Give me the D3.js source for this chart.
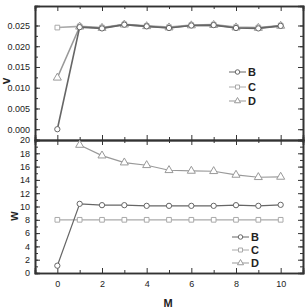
<!DOCTYPE html>
<html lang="en">
<head>
  <meta charset="utf-8">
  <title>v and w versus M</title>
  <style>
    body { margin: 0; background: #fff; }
    text { font-family: "Liberation Sans Narrow", "Liberation Sans", Arial, sans-serif; fill: #222; }
  </style>
</head>
<body>
  <script src="https://cdnjs.cloudflare.com/ajax/libs/d3/7.8.5/d3.min.js"></script>
  <script>
  // data
  const mValues = [0, 1, 2, 3, 4, 5, 6, 7, 8, 9, 10];
  const vB = [0.0000, 0.0246, 0.0243, 0.0252, 0.0248, 0.0244, 0.0250, 0.0251, 0.0244, 0.0243, 0.0249];
  const vC = [0.0245, 0.0248, 0.0245, 0.0253, 0.0249, 0.0246, 0.0251, 0.0252, 0.0246, 0.0245, 0.0250];
  const vD = [0.0124, 0.0247, 0.0244, 0.0252, 0.0248, 0.0245, 0.0250, 0.0251, 0.0245, 0.0244, 0.0249];
  const wB = [1.1, 10.4, 10.2, 10.2, 10.1, 10.1, 10.1, 10.1, 10.2, 10.1, 10.25];
  const wC = [8.0, 8.0, 8.0, 8.0, 8.0, 8.0, 8.0, 8.0, 8.0, 8.0, 8.0];
  const wD = [null, 19.25, 17.65, 16.6, 16.2, 15.45, 15.35, 15.3, 14.75, 14.4, 14.45];
  const seriesNames = ["B", "C", "D"];
  const vTicks = [0, 0.005, 0.010, 0.015, 0.020, 0.025];
  const wTicks = [0, 2, 4, 6, 8, 10, 12, 14, 16, 18, 20];
  const mTicks = [0, 2, 4, 6, 8, 10];

  const colors = { B: "#666", C: "#aaa", D: "#999" };
  const symbols = { B: d3.symbolCircle, C: d3.symbolSquare, D: d3.symbolTriangle };

  const W = 307, H = 308;
  const left = 35, right = 303;
  const topY = 6, midY = 140, botY = 273;

  const svg = d3.select("body").append("svg")
    .attr("width", W)
    .attr("height", H);

  const x = d3.scaleLinear().domain([-1, 11]).range([left, right]);
  const yV = d3.scaleLinear().domain([-0.0026, 0.0297]).range([midY, topY]);
  const yW = d3.scaleLinear().domain([0, 20]).range([botY, midY]);

  const axisColor = "#333";

  function styleAxis(g) {
    g.selectAll("path").attr("stroke", axisColor).attr("stroke-width", 1.4);
    g.selectAll("line").attr("stroke", axisColor).attr("stroke-width", 1);
    g.selectAll("text").style("font-size", "9px").attr("fill", "#222");
  }

  function minorTicks(lo, hi, step) {
    return d3.range(lo, hi + step / 2, step);
  }

  function panel(y, y0, y1, yTicks, yFmt, yMinorStep, showX) {
    const g = svg.append("g");
    // left
    g.append("g").attr("transform", `translate(${left},0)`)
      .call(d3.axisLeft(y).tickValues(minorTicks(y.domain()[0] < 0 ? 0 : y.domain()[0], yTicks[yTicks.length - 1], yMinorStep)).tickSize(-3).tickFormat(""))
      .call(styleAxis);
    g.append("g").attr("transform", `translate(${left},0)`)
      .call(d3.axisLeft(y).tickValues(yTicks).tickSize(-5).tickPadding(5).tickFormat(yFmt))
      .call(styleAxis);
    // right
    g.append("g").attr("transform", `translate(${right},0)`)
      .call(d3.axisRight(y).tickValues(minorTicks(y.domain()[0] < 0 ? 0 : y.domain()[0], yTicks[yTicks.length - 1], yMinorStep)).tickSize(-3).tickFormat(""))
      .call(styleAxis);
    g.append("g").attr("transform", `translate(${right},0)`)
      .call(d3.axisRight(y).tickValues(yTicks).tickSize(-5).tickFormat(""))
      .call(styleAxis);
    // top
    g.append("g").attr("transform", `translate(0,${y1})`)
      .call(d3.axisTop(x).tickValues(d3.range(1, 11, 2)).tickSize(-3).tickFormat(""))
      .call(styleAxis);
    g.append("g").attr("transform", `translate(0,${y1})`)
      .call(d3.axisTop(x).tickValues(mTicks).tickSize(-5).tickFormat(""))
      .call(styleAxis);
    // bottom
    g.append("g").attr("transform", `translate(0,${y0})`)
      .call(d3.axisBottom(x).tickValues(d3.range(1, 11, 2)).tickSize(-3).tickFormat(""))
      .call(styleAxis);
    g.append("g").attr("transform", `translate(0,${y0})`)
      .call(d3.axisBottom(x).tickValues(mTicks).tickSize(-5).tickPadding(8).tickFormat(showX ? d3.format("d") : ""))
      .call(styleAxis);
    g.selectAll(".domain").attr("stroke-width", 1.6);
  }

  panel(yV, midY, topY, vTicks, d3.format(".3f"), 0.0025, false);
  panel(yW, botY, midY, wTicks, d3.format("d"), 1, true);

  function drawSeries(y, values, name, sw) {
    const pts = mValues.map((m, i) => [m, values[i]]).filter(d => d[1] !== null);
    svg.append("path")
      .datum(pts)
      .attr("fill", "none")
      .attr("stroke", colors[name])
      .attr("stroke-width", sw)
      .attr("d", d3.line().x(d => x(d[0])).y(d => y(d[1])));
    svg.append("g").selectAll("path")
      .data(pts)
      .join("path")
      .attr("transform", d => `translate(${x(d[0])},${y(d[1])})`)
      .attr("d", d3.symbol().type(symbols[name]).size(name === "D" ? 28 : 22))
      .attr("fill", "#fff")
      .attr("stroke", colors[name])
      .attr("stroke-width", 1);
  }

  drawSeries(yV, vC, "C", 1.6);
  drawSeries(yV, vD, "D", 1.6);
  drawSeries(yV, vB, "B", 1.6);
  drawSeries(yW, wC, "C", 1.2);
  drawSeries(yW, wD, "D", 1.2);
  drawSeries(yW, wB, "B", 1.2);

  function legend(x0, ys) {
    seriesNames.forEach((name, i) => {
      const g = svg.append("g").attr("transform", `translate(${x0},${ys[i]})`);
      g.append("line").attr("x1", 0).attr("x2", 17).attr("stroke", colors[name]).attr("stroke-width", 1);
      g.append("path").attr("transform", "translate(8.5,0)")
        .attr("d", d3.symbol().type(symbols[name]).size(16))
        .attr("fill", "#fff").attr("stroke", colors[name]);
      g.append("text").attr("x", 19).attr("dy", "0.35em")
        .style("font-size", "11px").style("font-weight", "bold").text(name);
    });
  }
  legend(229, [72, 87, 101]);
  legend(232, [237, 250, 263]);

  svg.append("text").attr("transform", `translate(6,81) rotate(-90)`)
    .attr("text-anchor", "middle").attr("dy", "0.35em")
    .style("font-size", "12px").style("font-weight", "bold").text("v");
  svg.append("text").attr("transform", `translate(14,216) rotate(-90)`)
    .attr("text-anchor", "middle").attr("dy", "0.35em")
    .style("font-size", "12px").style("font-weight", "bold").text("w");
  svg.append("text").attr("x", 168).attr("y", 307)
    .attr("text-anchor", "middle")
    .style("font-size", "11px").style("font-weight", "bold").text("M");
  </script>
</body>
</html>
